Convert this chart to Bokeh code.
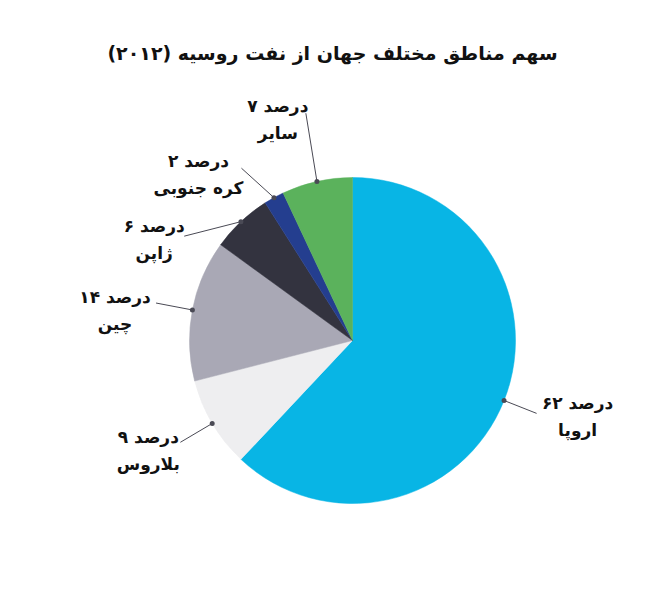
import math
from bokeh.plotting import figure
from bokeh.models import Range1d, ColumnDataSource
from bokeh.core.properties import value
from bokeh.embed import file_html
from bokeh.resources import INLINE

# ---- data ----
regions = ["اروپا", "بلاروس", "چین", "ژاپن", "کره جنوبی", "سایر"]
shares = [62, 9, 14, 6, 2, 7]
share_labels = ["۶۲ درصد", "۹ درصد", "۱۴ درصد", "۶ درصد", "۲ درصد", "۷ درصد"]
colors = ["#08b5e5", "#eeeef0", "#a9a8b5", "#33333f", "#243e8f", "#5bb25c"]
title_text = "سهم مناطق مختلف جهان از نفت روسیه (۲۰۱۲)\u200f"

# ---- layout (pixel-like coordinates, y up) ----
W, H = 634, 589
CX, CY, R = 352, 265, 163
# leader line end: radius and angular tweak (degrees) per slice
leader_r = [198, 200, 200, 198, 205, 232]
leader_tweak = [0, 0, 0, 15, 4, -1]
# text block centre offset from the leader end (dx, dy of first line, y up)
text_dx = [41, -32, -41, -30, -43, -28]
text_dy = [10, 5, 6, 10, 7, 7]
LINE_GAP = 27
FONT = "DejaVu Sans"

p = figure(width=W, height=H, x_range=Range1d(0, W), y_range=Range1d(605 - H, 605),
           output_backend="svg", toolbar_location=None, min_border=0,
           outline_line_color=None, background_fill_color="white", border_fill_color="white")
p.axis.visible = False
p.grid.visible = False

total = float(sum(shares))
starts, ends, mids = [], [], []
acc = 0.0
for s in shares:
    a0 = math.pi / 2 - acc / total * 2 * math.pi
    acc += s
    a1 = math.pi / 2 - acc / total * 2 * math.pi
    starts.append(a0)
    ends.append(a1)
    mids.append((a0 + a1) / 2)

src = ColumnDataSource(dict(start=starts, end=ends, color=colors))
p.wedge(x=CX, y=CY, radius=R, start_angle="start", end_angle="end", direction="clock",
        fill_color="color", line_color="color", line_width=0.5, source=src)

dot_x, dot_y, lx, ly = [], [], [], []
for i, m in enumerate(mids):
    dx_ = CX + R * math.cos(m)
    dy_ = CY + R * math.sin(m)
    a = m + math.radians(leader_tweak[i])
    ex = CX + leader_r[i] * math.cos(a)
    ey = CY + leader_r[i] * math.sin(a)
    dot_x.append(dx_); dot_y.append(dy_); lx.append(ex); ly.append(ey)

p.segment(x0=dot_x, y0=dot_y, x1=lx, y1=ly, line_color="#4a4a55", line_width=1)
p.scatter(x=dot_x, y=dot_y, size=5, fill_color="#4a4a55", line_color=None)

tx = [lx[i] + text_dx[i] for i in range(len(lx))]
ty = [ly[i] + text_dy[i] for i in range(len(ly))]
p.text(x=tx, y=ty, text=share_labels, text_font=value(FONT), text_font_style="bold",
       text_font_size="17px", text_align="center", text_baseline="middle", text_color="#111111")
p.text(x=tx, y=[t - LINE_GAP for t in ty], text=regions, text_font=value(FONT), text_font_style="bold",
       text_font_size="17px", text_align="center", text_baseline="middle", text_color="#111111")

p.text(x=[332], y=[605 - 52], text=[title_text], text_font=value(FONT), text_font_style="bold",
       text_font_size="19px", text_align="center", text_baseline="middle", text_color="#111111")

open("out.html", "w").write(file_html(p, INLINE))
